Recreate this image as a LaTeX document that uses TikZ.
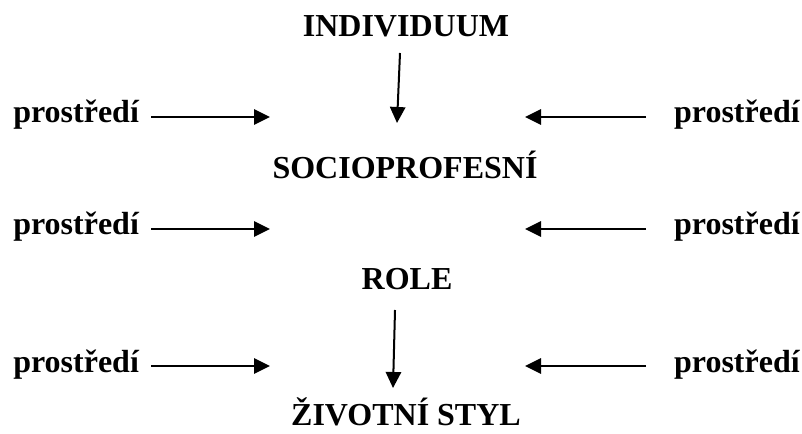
\documentclass[tikz,border=0pt]{standalone}
\usepackage{fontspec}
\setmainfont{Liberation Serif}
\usetikzlibrary{arrows.meta}
\tikzset{
  word/.style={font=\fontsize{24}{28}\selectfont\bfseries, inner sep=0pt},
  arr/.style={line width=1.5pt, -{Triangle[length=12pt,width=11.5pt]}}
}

\begin{document}
\begin{tikzpicture}[x=0.75pt,y=-0.75pt]
\useasboundingbox (0,0) rectangle (802,434);
% main column
\node[word,anchor=base] (indiv) at (406,37) {INDIVIDUUM};
\node[word,anchor=base] (socio) at (405,179) {SOCIOPROFESNÍ};
\node[word,anchor=base] (role) at (407,290) {ROLE};
\node[word,anchor=base] (styl) at (406,425) {ŽIVOTNÍ STYL};
\coordinate (d1a) at (400,53);
\coordinate (d1b) at (397,123);
\coordinate (d2a) at (395,310);
\coordinate (d2b) at (393,388);
\draw[arr] (d1a) -- (d1b);
\draw[arr] (d2a) -- (d2b);
% environment on both sides
\foreach \r/\y/\b in {1/117/123,2/229/235,3/366/372} {
  \node[word,anchor=base west] (pl\r) at (13,\b) {prostředí};
  \node[word,anchor=base east] (pr\r) at (800,\b) {prostředí};
  \coordinate (la\r) at (151,\y);
  \coordinate (lb\r) at (270,\y);
  \coordinate (ra\r) at (646,\y);
  \coordinate (rb\r) at (525,\y);
  \draw[arr] (la\r) -- (lb\r);
  \draw[arr] (ra\r) -- (rb\r);
}
\end{tikzpicture}
\end{document}
